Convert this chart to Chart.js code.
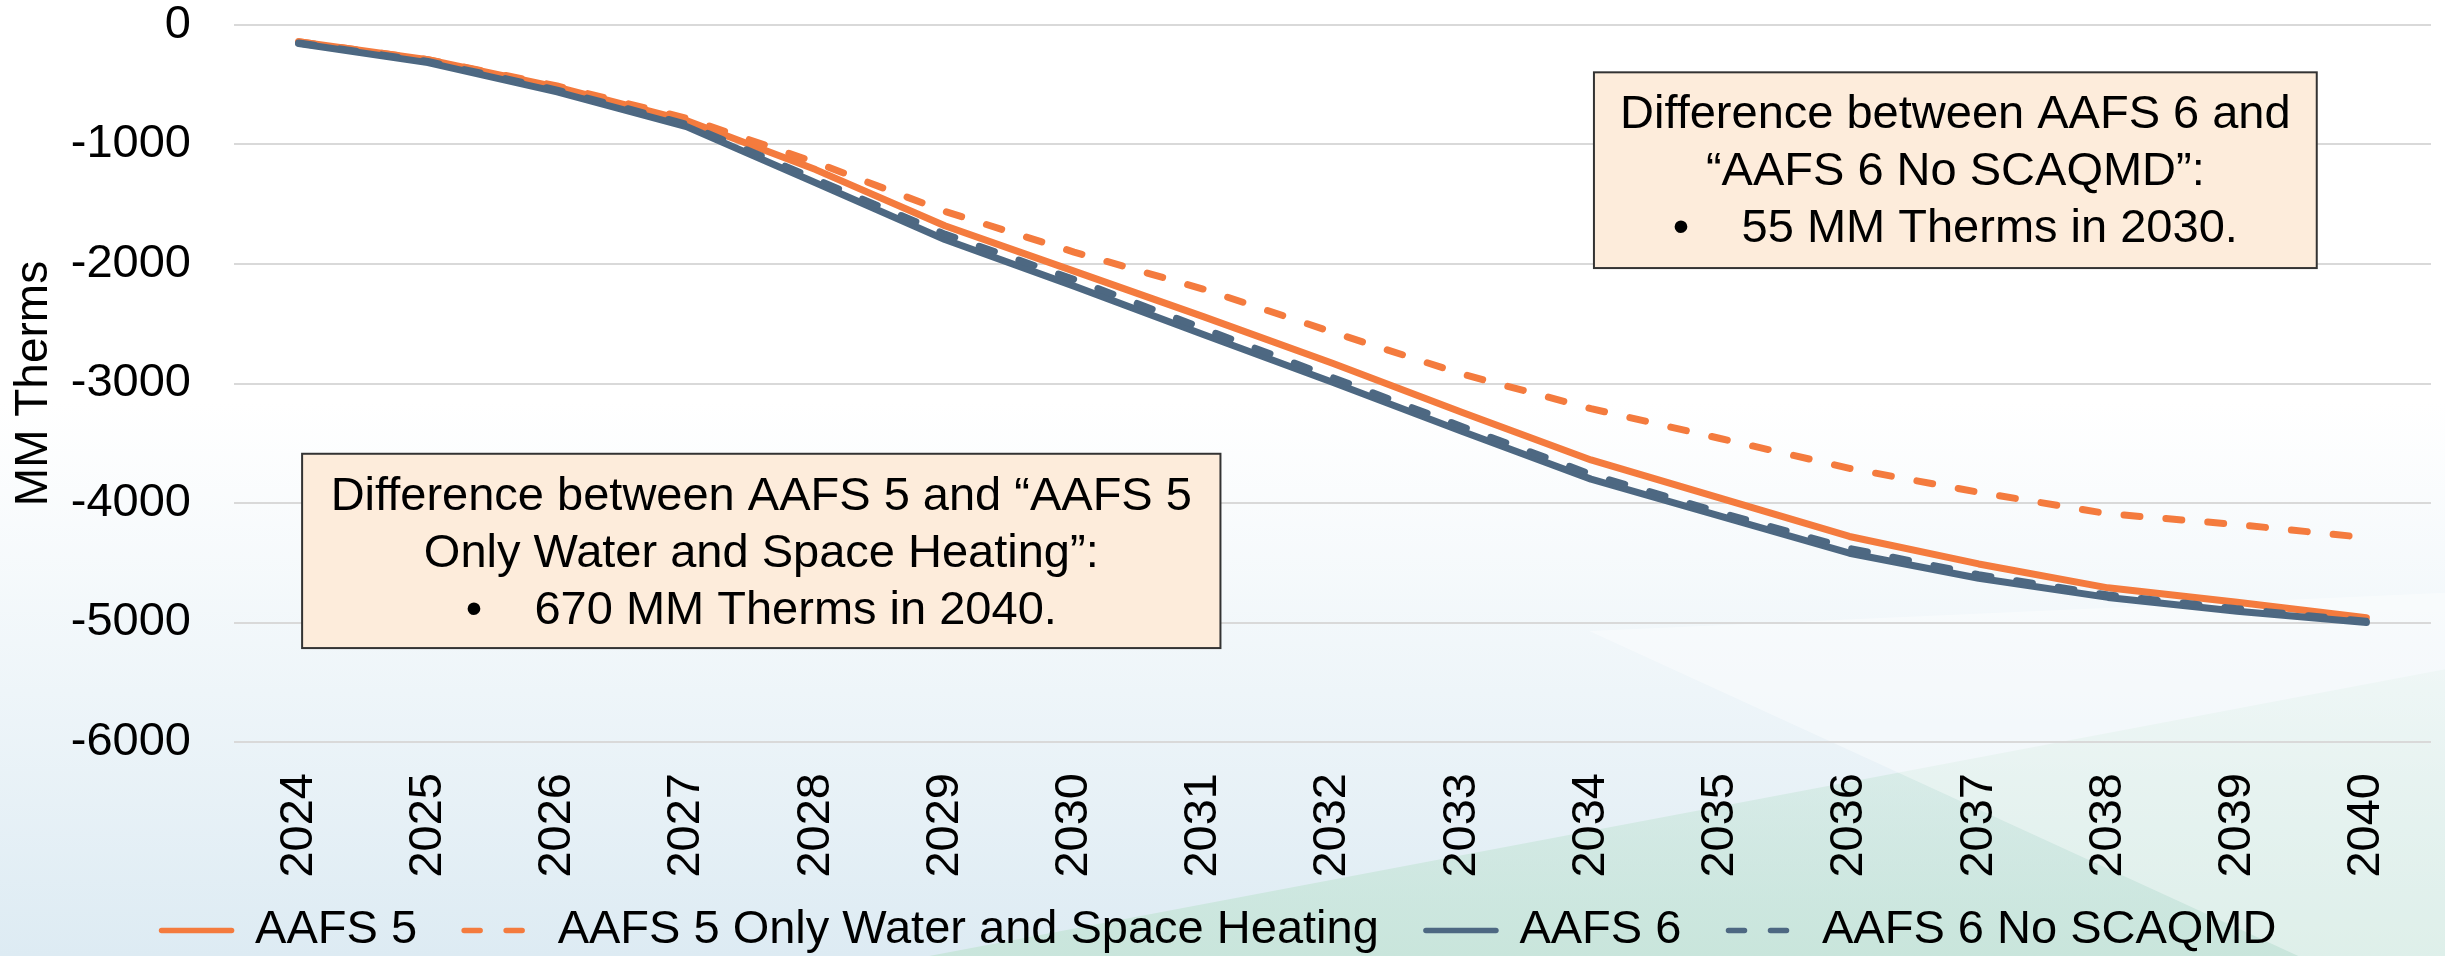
<!DOCTYPE html>
<html>
<head>
<meta charset="utf-8">
<title>MM Therms</title>
<script src="https://cdn.jsdelivr.net/npm/chart.js@4/dist/chart.umd.min.js"></script>
<style>
  html, body { margin: 0; padding: 0; background: #fff; }
  canvas { display: block; }
</style>
</head>
<body>
<canvas id="canvas1" width="2445" height="956"></canvas>
<script>
const years = ['2024', '2025', '2026', '2027', '2028', '2029', '2030', '2031', '2032',
               '2033', '2034', '2035', '2036', '2037', '2038', '2039', '2040'];

// MM Therms
const aafs5 = [-140, -290, -520, -800, -1210, -1680, -2060, -2440, -2830,
               -3240, -3640, -3960, -4280, -4510, -4710, -4830, -4960];
const aafs5WaterSpace = [-140, -290, -510, -780, -1150, -1560, -1900, -2210, -2570,
                         -2920, -3210, -3460, -3710, -3910, -4090, -4180, -4290];
const aafs6 = [-155, -315, -560, -850, -1320, -1795, -2185, -2590, -2990,
               -3400, -3800, -4110, -4420, -4630, -4790, -4905, -5000];
const aafs6NoScaqmd = [-150, -305, -545, -830, -1290, -1750, -2130, -2540, -2950,
                       -3360, -3760, -4080, -4380, -4600, -4770, -4885, -4990];

const yTickValues = [0, -1000, -2000, -3000, -4000, -5000, -6000];

const noteTopRight = ['Difference between AAFS 6 and', '\u201CAAFS 6 No SCAQMD\u201D:',
                      '\u2022\u00A0\u00A0\u00A0\u00A055 MM Therms in 2030.'];
const noteBottomLeft = ['Difference between AAFS 5 and \u201CAAFS 5', 'Only Water and Space Heating\u201D:',
                        '\u2022\u00A0\u00A0\u00A0\u00A0670 MM Therms in 2040.'];

const FONT = '"Liberation Sans", Arial, sans-serif';
const ORANGE = '#f47b3e';
const SLATE = '#4d6882';

Chart.defaults.font.family = FONT;
Chart.defaults.color = '#000';

// slide-style background behind the chart
const backdrop = {
    id: 'backdrop',
    beforeDraw(chart) {
        const {ctx, width, height} = chart;
        ctx.save();
        ctx.fillStyle = '#ffffff';
        ctx.fillRect(0, 0, width, height);

        let g = ctx.createLinearGradient(0, height * 0.42, 0, height);
        g.addColorStop(0, 'rgba(224, 237, 244, 0)');
        g.addColorStop(1, 'rgba(221, 235, 243, 1)');
        ctx.fillStyle = g;
        ctx.fillRect(0, 0, width, height);

        // teal wedge, bottom right
        ctx.beginPath();
        ctx.moveTo(width * 0.38, height);
        ctx.lineTo(width, height * 0.70);
        ctx.lineTo(width, height);
        ctx.closePath();
        g = ctx.createLinearGradient(0, height * 0.70, 0, height);
        g.addColorStop(0, 'rgba(196, 228, 214, 0.25)');
        g.addColorStop(1, 'rgba(196, 228, 214, 0.8)');
        ctx.fillStyle = g;
        ctx.fill();

        // lighter sheen on the far right
        ctx.beginPath();
        ctx.moveTo(width * 0.65, height * 0.66);
        ctx.lineTo(width, height * 0.62);
        ctx.lineTo(width, height);
        ctx.lineTo(width * 0.94, height);
        ctx.closePath();
        ctx.fillStyle = 'rgba(255, 255, 255, 0.4)';
        ctx.fill();
        ctx.restore();
    },
    afterLayout(chart) {
        // nudge the legend row a little lower, as in the slide
        chart.legend.top += 8;
        chart.legend.bottom += 8;
    }
};

// the two call-out boxes, placed as fractions of the plot area
const notes = [
    {lines: noteTopRight, left: 0.619, right: 0.948, top: 0.066, bottom: 0.339},
    {lines: noteBottomLeft, left: 0.031, right: 0.449, top: 0.598, bottom: 0.869}
];

const callouts = {
    id: 'callouts',
    afterDraw(chart) {
        const {ctx, chartArea: a} = chart;
        ctx.save();
        ctx.font = '47px ' + FONT;
        ctx.textAlign = 'center';
        ctx.textBaseline = 'alphabetic';
        notes.forEach(n => {
            const x0 = a.left + n.left * a.width;
            const x1 = a.left + n.right * a.width;
            const y0 = a.top + n.top * a.height;
            const y1 = a.top + n.bottom * a.height;
            ctx.fillStyle = '#fdecdb';
            ctx.fillRect(x0, y0, x1 - x0, y1 - y0);
            ctx.lineWidth = 2;
            ctx.strokeStyle = '#333333';
            ctx.strokeRect(x0, y0, x1 - x0, y1 - y0);
            ctx.fillStyle = '#000';
            n.lines.forEach((t, i) => ctx.fillText(t, (x0 + x1) / 2, y0 + 56 + i * 57));
        });
        ctx.restore();
    }
};

const ctx1 = document.getElementById('canvas1').getContext('2d');

const myChart1 = new Chart(ctx1, {
    type: 'line',
    data: {
        labels: years,
        datasets: [{
            label: 'AAFS 5',
            data: aafs5,
            borderColor: ORANGE,
            backgroundColor: ORANGE,
            order: 4
        }, {
            label: 'AAFS 5 Only Water and Space Heating',
            data: aafs5WaterSpace,
            borderColor: ORANGE,
            backgroundColor: ORANGE,
            borderDash: [16, 26],
            order: 3
        }, {
            label: 'AAFS 6',
            data: aafs6,
            borderColor: SLATE,
            backgroundColor: SLATE,
            order: 2
        }, {
            label: 'AAFS 6 No SCAQMD',
            data: aafs6NoScaqmd,
            borderColor: SLATE,
            backgroundColor: SLATE,
            borderDash: [16, 26],
            order: 1
        }]
    },
    options: {
        responsive: false,
        animation: false,
        events: [],
        layout: {
            padding: {left: 7, right: 14, top: 25, bottom: 0}
        },
        elements: {
            point: {radius: 0},
            line: {borderWidth: 7, tension: 0, borderCapStyle: 'round', borderJoinStyle: 'round', fill: false}
        },
        scales: {
            x: {
                type: 'category',
                offset: true,
                grid: {display: false, drawTicks: false},
                border: {display: false},
                ticks: {
                    font: {size: 47},
                    color: '#000',
                    padding: 31,
                    minRotation: 90,
                    maxRotation: 90,
                    autoSkip: false
                },
                afterFit(scale) {
                    scale.height = 136;
                    scale.paddingLeft = 0;
                    scale.paddingRight = 0;
                }
            },
            y: {
                min: Math.min(...yTickValues),
                max: Math.max(...yTickValues),
                grid: {color: '#d9d9d9', lineWidth: 2, drawTicks: false},
                border: {display: false},
                ticks: {
                    font: {size: 47, lineHeight: 1},
                    color: '#000',
                    padding: 43,
                    callback: v => String(v)
                },
                afterBuildTicks(scale) {
                    scale.ticks = yTickValues.map(v => ({value: v}));
                },
                afterFit(scale) {
                    scale.width = 227;
                    scale.paddingTop = 0;
                    scale.paddingBottom = 0;
                },
                title: {
                    display: true,
                    text: 'MM Therms',
                    color: '#000',
                    font: {size: 46, lineHeight: 1.2},
                    padding: 0
                }
            }
        },
        plugins: {
            tooltip: {enabled: false},
            legend: {
                position: 'bottom',
                labels: {
                    usePointStyle: true,
                    pointStyle: 'line',
                    pointStyleWidth: 70,
                    padding: 21,
                    color: '#000',
                    font: {size: 47},
                    sort: (a, b) => a.datasetIndex - b.datasetIndex,
                    generateLabels(chart) {
                        const items = Chart.defaults.plugins.legend.labels.generateLabels(chart);
                        items.forEach(item => {
                            const ds = chart.data.datasets[item.datasetIndex];
                            item.lineDash = ds.borderDash || [];
                            item.lineWidth = 5.5;
                            item.lineCap = 'round';
                            // a little extra room before the next entry
                            if (item.datasetIndex < chart.data.datasets.length - 1) {
                                item.text += '\u00A0\u00A0';
                            }
                        });
                        return items;
                    }
                }
            }
        }
    },
    plugins: [backdrop, callouts]
});
</script>
</body>
</html>
